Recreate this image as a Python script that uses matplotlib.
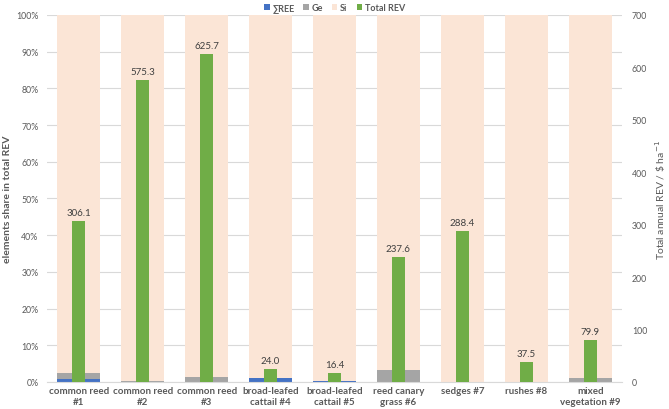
import matplotlib.pyplot as plt
import numpy as np

plt.rcParams['font.family'] = ['Lato', 'DejaVu Sans']

categories = ['common reed\n#1', 'common reed\n#2', 'common reed\n#3',
              'broad-leafed\ncattail #4', 'broad-leafed\ncattail #5',
              'reed canary\ngrass #6', 'sedges #7', 'rushes #8',
              'mixed\nvegetation #9']
ree_share = [0.8, 0.05, 0.1, 1.0, 0.3, 0.05, 0.0, 0.0, 0.05]
ge_share = [1.7, 0.25, 1.3, 0.0, 0.0, 3.3, 0.0, 0.0, 0.9]
total_rev = [306.1, 575.3, 625.7, 24.0, 16.4, 237.6, 288.4, 37.5, 79.9]
si_share = [100 - r - g for r, g in zip(ree_share, ge_share)]

c_ree = '#4472C4'
c_ge = '#A5A5A5'
c_si = '#FBE5D6'
c_tot = '#70AD47'
txt = '#595959'

fig = plt.figure(figsize=(6.69, 4.10), dpi=100)
ax = fig.add_axes([0.070, 0.066, 0.860, 0.895])
ax2 = ax.twinx()

x = np.arange(len(categories))
w = 0.67
ax.bar(x, ree_share, w, color=c_ree, label='\u2211REE', zorder=2)
ax.bar(x, ge_share, w, bottom=ree_share, color=c_ge, label='Ge', zorder=2)
ax.bar(x, si_share, w, bottom=np.add(ree_share, ge_share), color=c_si,
       label='Si', zorder=2)
bars = ax2.bar(x, total_rev, 0.2, color=c_tot, label='Total REV', zorder=3)
ax2.bar_label(bars, labels=['{:.1f}'.format(v) for v in total_rev],
              padding=3, fontsize=7, color='#404040')

ax.set_xlim(-0.5, len(categories) - 0.5)
ax.set_ylim(0, 100)
ax2.set_ylim(0, 700)
ax.set_yticks(np.arange(0, 101, 10))
ax.set_yticklabels(['{}%'.format(v) for v in range(0, 101, 10)])
ax2.set_yticks(np.arange(0, 701, 100))
ax.yaxis.grid(True, color='#D9D9D9', linewidth=0.8, zorder=0)
ax.set_axisbelow(True)

ax.set_xticks(x)
ax.set_xticklabels(categories, fontsize=7, color=txt, fontweight='bold',
                   linespacing=1.2)
for a in (ax, ax2):
    for s in a.spines.values():
        s.set_visible(False)
    a.tick_params(length=0, labelsize=6.3, labelcolor=txt)
ax.tick_params(axis='y', pad=6)
ax2.tick_params(axis='y', pad=7)
ax.spines['bottom'].set_visible(True)
ax.spines['bottom'].set_color('#D9D9D9')
ax.tick_params(axis='x', labelsize=7, pad=3)

ax.set_ylabel('elements share in total REV', fontsize=7.5, color=txt,
              fontweight='bold', labelpad=3)
ax2.set_ylabel('Total annual REV / \\$ ha$^{-1}$', fontsize=7.5, color=txt,
               labelpad=4)

h1, l1 = ax.get_legend_handles_labels()
h2, l2 = ax2.get_legend_handles_labels()
fig.legend(h1 + h2, l1 + l2, loc='upper center', bbox_to_anchor=(0.5, 1.01),
           ncol=4, frameon=False, handlelength=0.6,
           handleheight=0.6, columnspacing=1.0, handletextpad=0.3,
           labelcolor=txt, prop={'weight': 'bold', 'size': 6.5})

plt.savefig('out.png', dpi=100)
